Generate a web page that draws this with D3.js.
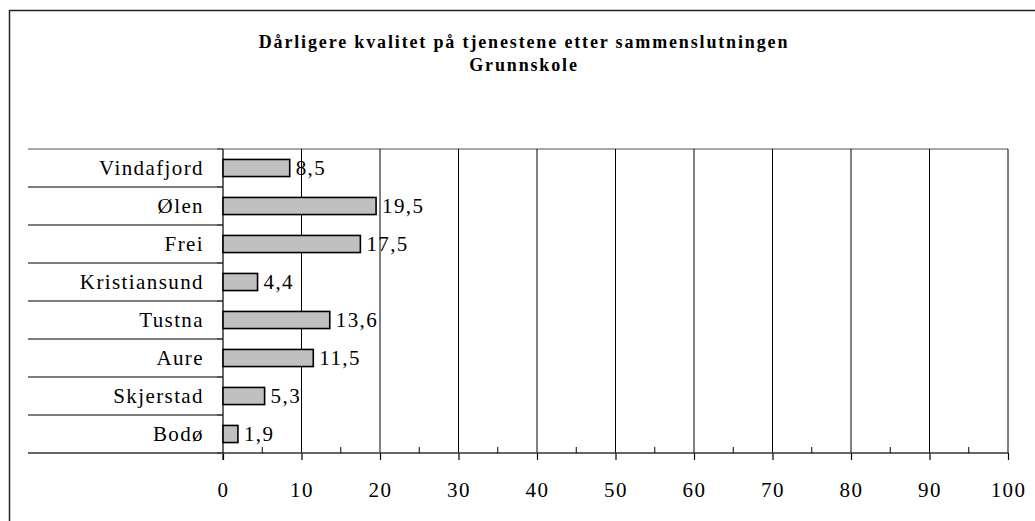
<!DOCTYPE html>
<html>
<head>
<meta charset="utf-8">
<script src="https://cdn.jsdelivr.net/npm/d3@7"></script>
<style>
  html, body { margin: 0; padding: 0; background: #fff; }
  svg { display: block; }
  text { font-family: "Liberation Serif", "DejaVu Serif", serif; fill: #000; }
</style>
</head>
<body>
<svg id="chart" width="1035" height="521"></svg>
<script>
const titleLines = ["Dårligere kvalitet på tjenestene etter sammenslutningen", "Grunnskole"];
const categories = ["Vindafjord", "Ølen", "Frei", "Kristiansund", "Tustna", "Aure", "Skjerstad", "Bodø"];
const values = [8.5, 19.5, 17.5, 4.4, 13.6, 11.5, 5.3, 1.9];
const majorTicks = [0, 10, 20, 30, 40, 50, 60, 70, 80, 90, 100];
const minorTicks = [5, 15, 25, 35, 45, 55, 65, 75, 85, 95];

const svg = d3.select("#chart");
const plot = { left: 223, right: 1008, top: 149, bottom: 453 };
const labelLeft = 28;
const serif = "'Liberation Serif', 'DejaVu Serif', serif";

const nb = d3.formatLocale({ decimal: ",", thousands: " ", grouping: [3], currency: ["", " kr"] });
const fmt = nb.format(".1f");

const x = d3.scaleLinear().domain([0, 100]).range([plot.left, plot.right]);
const y = d3.scaleBand().domain(categories).range([plot.top, plot.bottom]).paddingInner(0).paddingOuter(0);
const barPad = 0.55;

// outer frame
svg.append("rect")
  .attr("x", 9.5).attr("y", 10.5)
  .attr("width", 1100).attr("height", 600)
  .attr("fill", "none").attr("stroke", "#222").attr("stroke-width", 1.5);

// title
const title = svg.append("text")
  .attr("x", 524).attr("y", 48)
  .attr("text-anchor", "middle")
  .style("font-family", serif)
  .style("font-size", "18px").style("font-weight", "bold").style("letter-spacing", "1.85px");
titleLines.forEach((t, i) => {
  title.append("tspan").attr("x", 524).attr("dy", i === 0 ? 0 : 23).text(t);
});

// plot border top
svg.append("line").attr("x1", plot.left).attr("x2", plot.right)
  .attr("y1", plot.top).attr("y2", plot.top).attr("stroke", "#555").attr("stroke-width", 1.2);

// vertical grid lines
svg.append("g").selectAll("line").data(majorTicks.slice(1)).join("line")
  .attr("x1", d => x(d)).attr("x2", d => x(d))
  .attr("y1", plot.top).attr("y2", plot.bottom)
  .attr("stroke", "#000").attr("stroke-width", 1);

// category separator lines in label area
const bounds = categories.map(c => y(c)).concat([plot.bottom]);
svg.append("g").selectAll("line").data(bounds.slice(0, -1)).join("line")
  .attr("x1", labelLeft).attr("x2", plot.left)
  .attr("y1", d => d).attr("y2", d => d)
  .attr("stroke", (d, i) => i === 0 ? "#555" : "#000").attr("stroke-width", 1.2);

// y axis line + small ticks
svg.append("line").attr("x1", plot.left).attr("x2", plot.left)
  .attr("y1", plot.top).attr("y2", plot.bottom + 7).attr("stroke", "#000").attr("stroke-width", 1.2);
svg.append("g").selectAll("line").data(bounds).join("line")
  .attr("x1", plot.left - 6).attr("x2", plot.left)
  .attr("y1", d => d).attr("y2", d => d)
  .attr("stroke", "#333").attr("stroke-width", 1);

// bars
svg.append("g").selectAll("rect").data(categories).join("rect")
  .attr("x", x(0))
  .attr("y", c => y(c) + y.bandwidth() * barPad / 2)
  .attr("width", (c, i) => x(values[i]) - x(0))
  .attr("height", y.bandwidth() * (1 - barPad))
  .attr("fill", "#c0c0c0").attr("stroke", "#000").attr("stroke-width", 1.6);

// value labels
svg.append("g").selectAll("text").data(categories).join("text")
  .attr("x", (c, i) => x(values[i]) + 6)
  .attr("y", c => y(c) + y.bandwidth() / 2 + 7)
  .style("font-family", serif)
  .style("font-size", "21px").style("letter-spacing", "1.4px")
  .text((c, i) => fmt(values[i]));

// category labels
svg.append("g").selectAll("text").data(categories).join("text")
  .attr("x", plot.left - 19)
  .attr("y", c => y(c) + y.bandwidth() / 2 + 7)
  .attr("text-anchor", "end")
  .style("font-family", serif)
  .style("font-size", "21px").style("letter-spacing", "1.4px")
  .text(c => c);

// x axis
const xAxis = d3.axisBottom(x).tickValues(majorTicks).tickSize(7).tickPadding(22)
  .tickFormat(d => nb.format("d")(d));
const gx = svg.append("g").attr("transform", `translate(0,${plot.bottom})`).call(xAxis);
gx.select(".domain").remove();
gx.selectAll(".tick line").attr("stroke", "#000").attr("stroke-width", 1.2);
gx.selectAll(".tick text")
  .style("font-family", serif)
  .style("font-size", "21px").style("letter-spacing", "1.4px").attr("fill", "#000");

// axis baseline extended into label area
svg.append("line").attr("x1", labelLeft).attr("x2", plot.right)
  .attr("y1", plot.bottom).attr("y2", plot.bottom)
  .attr("stroke", "#333").attr("stroke-width", 1.5);

// minor ticks above axis
svg.append("g").selectAll("line").data(minorTicks).join("line")
  .attr("x1", d => x(d)).attr("x2", d => x(d))
  .attr("y1", plot.bottom - 6).attr("y2", plot.bottom)
  .attr("stroke", "#000").attr("stroke-width", 1);
</script>
</body>
</html>
